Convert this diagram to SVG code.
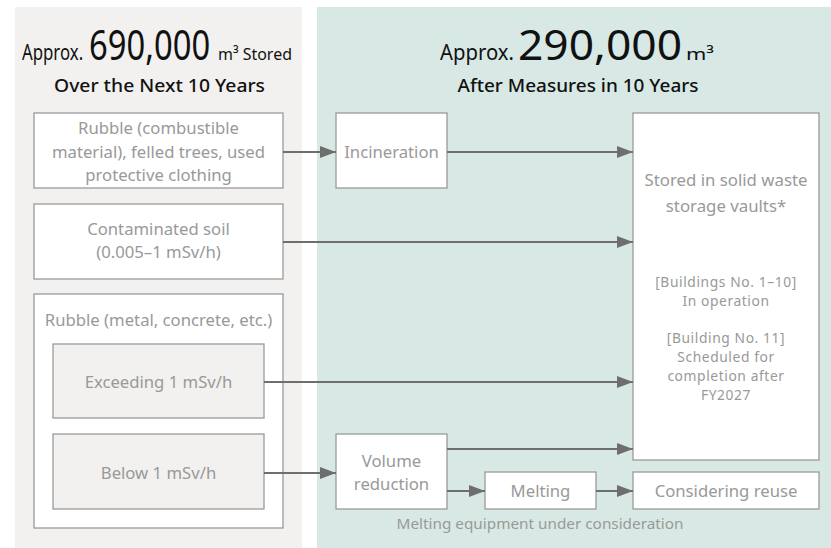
<svg xmlns="http://www.w3.org/2000/svg" width="831" height="548" viewBox="0 0 831 548">
<defs>
<style>
.bx{fill:#fff;stroke:#9a9a9a;stroke-width:1.3}
.gb{fill:#f2f1ef;stroke:#9a9a9a;stroke-width:1.3}
.t{font-family:"Noto Sans","Open Sans",sans-serif;font-size:16.7px;fill:#999;text-anchor:middle}
.tm{font-family:"Noto Sans","Open Sans",sans-serif;font-size:16.8px;fill:#999;text-anchor:middle}
.ts{font-family:"Noto Sans","Open Sans",sans-serif;font-size:13.8px;letter-spacing:0.6px;fill:#999;text-anchor:middle}
.tn{font-family:"Noto Sans","Open Sans",sans-serif;font-size:15.3px;fill:#999;text-anchor:middle}
.h{font-family:"Noto Sans","Open Sans",sans-serif;fill:#111}
.c line{stroke:#6e6e6e;stroke-width:2;marker-end:url(#ah)}
</style>
<marker id="ah" markerUnits="userSpaceOnUse" markerWidth="17" markerHeight="12" refX="16" refY="6" orient="auto">
<path d="M0,0 L16,6 L0,12 Z" fill="#6e6e6e"/>
</marker>
</defs>
<rect x="15" y="7" width="287" height="541" fill="#f2f1ef"/>
<rect x="317" y="7" width="514" height="541" fill="#d8e9e5"/>

<g id="heading-left">
<text class="h" transform="translate(22,60) scale(0.8,1)" font-size="21">Approx.</text>
<text class="h" transform="translate(89,60) scale(0.78,1)" font-size="42">690,000</text>
<text class="h" transform="translate(218,60) scale(0.94,1)" font-size="17">m³ Stored</text>
<text class="h" x="159.5" y="92" font-size="18.5" font-weight="500" text-anchor="middle" textLength="211" lengthAdjust="spacingAndGlyphs">Over the Next 10 Years</text>
</g>
<g id="heading-right">
<text class="h" x="440" y="60" font-size="21" textLength="74" lengthAdjust="spacingAndGlyphs">Approx.</text>
<text class="h" x="518" y="60" font-size="42" textLength="164" lengthAdjust="spacingAndGlyphs">290,000</text>
<text class="h" x="686" y="60" font-size="17" textLength="28" lengthAdjust="spacingAndGlyphs">m³</text>
<text class="h" x="578" y="92" font-size="18.5" font-weight="500" text-anchor="middle" textLength="241" lengthAdjust="spacingAndGlyphs">After Measures in 10 Years</text>
</g>

<g id="combustible">
<rect class="bx" x="34" y="113" width="249" height="75"/>
<text class="t" x="158.5" y="134">Rubble (combustible</text>
<text class="t" x="158.5" y="158">material), felled trees, used</text>
<text class="t" x="158.5" y="181">protective clothing</text>
</g>
<g id="soil">
<rect class="bx" x="34" y="204" width="249" height="75"/>
<text class="t" x="158.5" y="235">Contaminated soil</text>
<text class="t" x="158.5" y="258">(0.005–1 mSv/h)</text>
</g>
<g id="rubble-metal">
<rect class="bx" x="34" y="294" width="249" height="234"/>
<text class="t" x="158.5" y="326">Rubble (metal, concrete, etc.)</text>
</g>
<g id="exceeding">
<rect class="gb" x="53" y="344" width="211" height="74"/>
<text class="t" x="158.5" y="388">Exceeding 1 mSv/h</text>
</g>
<g id="below">
<rect class="gb" x="53" y="434" width="211" height="75"/>
<text class="t" x="158.5" y="479">Below 1 mSv/h</text>
</g>
<g id="incineration">
<rect class="bx" x="336" y="113" width="111" height="75"/>
<text class="t" x="391.5" y="158">Incineration</text>
</g>
<g id="volume-reduction">
<rect class="bx" x="336" y="434" width="111" height="75"/>
<text class="t" x="391.5" y="467">Volume</text>
<text class="t" x="391.5" y="490">reduction</text>
</g>
<g id="melting">
<rect class="bx" x="485" y="472" width="111" height="37"/>
<text class="t" x="540.5" y="497">Melting</text>
</g>
<g id="reuse">
<rect class="bx" x="633" y="472" width="186" height="37"/>
<text class="t" x="726" y="497">Considering reuse</text>
</g>
<g id="storage">
<rect class="bx" x="633" y="113" width="186" height="347"/>
<text class="tm" x="726" y="186">Stored in solid waste</text>
<text class="tm" x="726" y="212">storage vaults*</text>
<text class="ts" x="726" y="287">[Buildings No. 1–10]</text>
<text class="ts" x="726" y="306">In operation</text>
<text class="ts" x="726" y="343">[Building No. 11]</text>
<text class="ts" x="726" y="362">Scheduled for</text>
<text class="ts" x="726" y="381">completion after</text>
<text class="ts" x="726" y="400">FY2027</text>
</g>
<g id="note">
<text class="tn" x="540" y="529">Melting equipment under consideration</text>
</g>

<g id="connectors" class="c">
<line x1="283" y1="152" x2="336" y2="152"/>
<line x1="447" y1="152" x2="633" y2="152"/>
<line x1="283" y1="242" x2="633" y2="242"/>
<line x1="264" y1="382" x2="633" y2="382"/>
<line x1="264" y1="473" x2="336" y2="473"/>
<line x1="447" y1="449" x2="633" y2="449"/>
<line x1="447" y1="491" x2="485" y2="491"/>
<line x1="596" y1="491" x2="633" y2="491"/>
</g>
</svg>
